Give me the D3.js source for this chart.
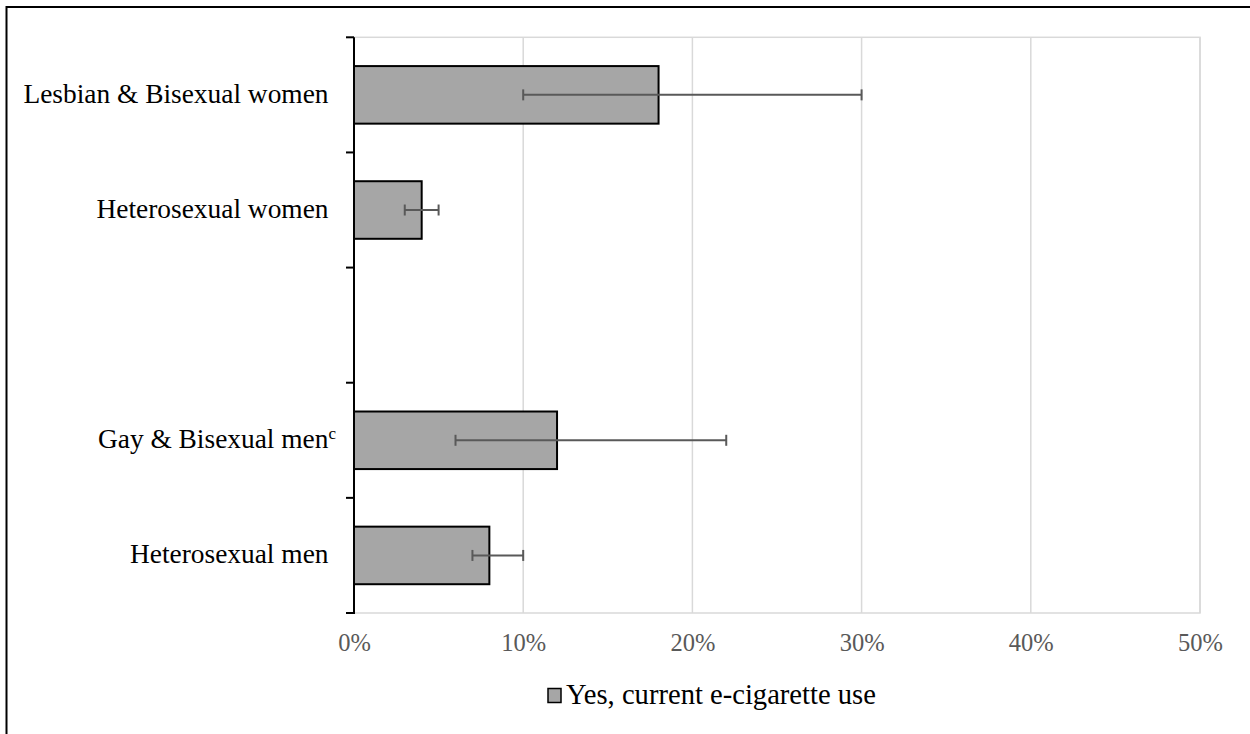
<!DOCTYPE html>
<html>
<head>
<meta charset="utf-8">
<script src="https://cdn.jsdelivr.net/npm/d3@7"></script>
<style>
  html, body { margin: 0; padding: 0; background: #fff; }
  svg { display: block; }
  text { font-family: "Liberation Serif", "Times New Roman", serif; }
</style>
</head>
<body>
<svg id="chart" width="1250" height="734"></svg>
<script>
// Current e-cigarette use by sexual orientation and sex (% with 95% CI)
const categories = ["Lesbian & Bisexual women", "Heterosexual women", "", "Gay & Bisexual men", "Heterosexual men"];
const superscripts = ["", "", "", "c", ""];
const values = [18, 4, null, 12, 8];
const ciLower = [10, 3, null, 6, 7];
const ciUpper = [30, 5, null, 22, 10];
const xTicks = [0, 10, 20, 30, 40, 50];
const seriesName = "Yes, current e-cigarette use";

const svg = d3.select("#chart");
const W = 1250, H = 734;

const margin = { left: 354, right: 50, top: 37.3, bottom: 121 };
const plotW = W - margin.left - margin.right;
const plotH = H - margin.top - margin.bottom;

const rows = categories.map((c, i) => ({
  i, label: c, sup: superscripts[i], v: values[i], lo: ciLower[i], hi: ciUpper[i]
}));

const x = d3.scaleLinear().domain([0, 50]).range([margin.left, margin.left + plotW]);
const y = d3.scaleBand()
  .domain(rows.map(r => r.i))
  .range([margin.top, margin.top + plotH])
  .paddingInner(0.5)
  .paddingOuter(0.25);

// Outer frame (runs off the right and bottom edges)
svg.append("path")
  .attr("d", `M6.5,${H + 5} L6.5,7 L${W + 5},7`)
  .attr("fill", "none")
  .attr("stroke", "#000")
  .attr("stroke-width", 2);

// Plot area border and vertical gridlines
svg.append("rect")
  .attr("x", x(0)).attr("y", y.range()[0])
  .attr("width", x(50) - x(0)).attr("height", y.range()[1] - y.range()[0])
  .attr("fill", "none").attr("stroke", "#d9d9d9").attr("stroke-width", 1.5);

svg.append("g")
  .selectAll("line")
  .data(xTicks.filter(t => t > 0))
  .join("line")
  .attr("x1", d => x(d)).attr("x2", d => x(d))
  .attr("y1", y.range()[0]).attr("y2", y.range()[1])
  .attr("stroke", "#d9d9d9").attr("stroke-width", 1.5);

// Bars
const dataRows = rows.filter(r => r.v !== null);
svg.append("g")
  .selectAll("rect")
  .data(dataRows)
  .join("rect")
  .attr("x", x(0))
  .attr("y", d => y(d.i))
  .attr("width", d => x(d.v) - x(0))
  .attr("height", y.bandwidth())
  .attr("fill", "#a6a6a6")
  .attr("stroke", "#000")
  .attr("stroke-width", 2);

// Error bars
const eb = svg.append("g").attr("stroke", "#595959").attr("stroke-width", 2);
const capH = 11;
dataRows.forEach(d => {
  const cy = y(d.i) + y.bandwidth() / 2;
  eb.append("line").attr("x1", x(d.lo)).attr("x2", x(d.hi)).attr("y1", cy).attr("y2", cy);
  eb.append("line").attr("x1", x(d.lo)).attr("x2", x(d.lo)).attr("y1", cy - capH / 2).attr("y2", cy + capH / 2);
  eb.append("line").attr("x1", x(d.hi)).attr("x2", x(d.hi)).attr("y1", cy - capH / 2).attr("y2", cy + capH / 2);
});

// Category axis: line with ticks between categories
const yAxis = svg.append("g");
yAxis.append("line")
  .attr("x1", x(0)).attr("x2", x(0))
  .attr("y1", y.range()[0]).attr("y2", y.range()[1] + 1)
  .attr("stroke", "#000").attr("stroke-width", 2);
const boundaries = d3.range(categories.length + 1).map(k => y.range()[0] + k * (plotH / categories.length));
yAxis.selectAll("line.tick")
  .data(boundaries)
  .join("line")
  .attr("class", "tick")
  .attr("x1", x(0) - 8).attr("x2", x(0))
  .attr("y1", d => d).attr("y2", d => d)
  .attr("stroke", "#000").attr("stroke-width", 2);

// Category labels
const labels = svg.append("g")
  .selectAll("text")
  .data(rows.filter(r => r.label !== ""))
  .join("text")
  .attr("x", d => d.sup ? 336 : 328.5)
  .attr("y", d => y(d.i) + y.bandwidth() / 2 + 8)
  .attr("text-anchor", "end")
  .attr("font-size", 27.4)
  .attr("fill", "#000");
labels.append("tspan").text(d => d.label);
labels.filter(d => d.sup)
  .append("tspan")
  .attr("font-size", 17)
  .attr("dy", -9)
  .text(d => d.sup);

// Value axis labels
const xAxis = svg.append("g")
  .attr("transform", `translate(0,${y.range()[1]})`)
  .call(d3.axisBottom(x).tickValues(xTicks).tickFormat(d => d + "%").tickSize(0).tickPadding(21));
xAxis.select(".domain").remove();
xAxis.selectAll("text")
  .attr("font-family", "Liberation Serif, serif")
  .attr("font-size", 24.5)
  .attr("fill", "#595959");

// Legend
const lg = svg.append("g");
lg.append("rect")
  .attr("x", 548).attr("y", 688.5)
  .attr("width", 13).attr("height", 14)
  .attr("fill", "#a6a6a6").attr("stroke", "#000").attr("stroke-width", 1.5);
lg.append("text")
  .attr("x", 566).attr("y", 703.5)
  .attr("font-size", 28.6)
  .attr("fill", "#000")
  .text(seriesName);
</script>
</body>
</html>
